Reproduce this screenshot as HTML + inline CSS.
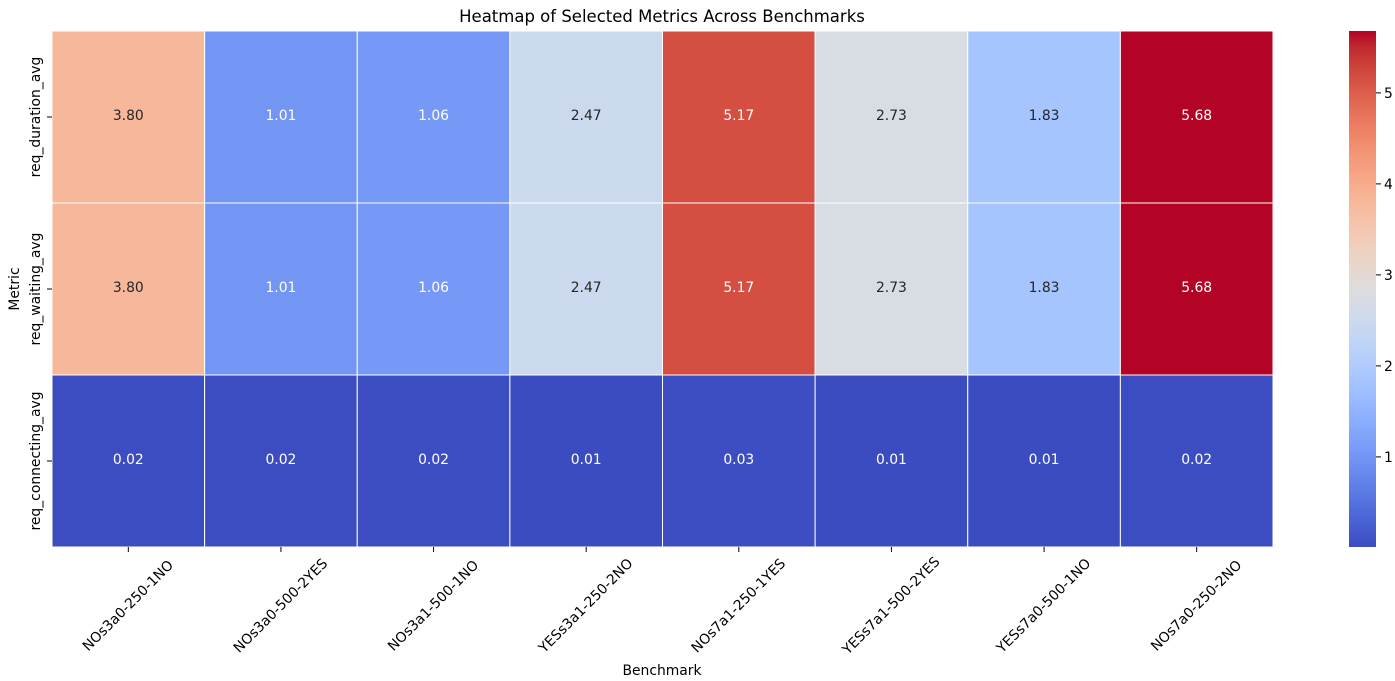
<!DOCTYPE html>
<html><head><meta charset="utf-8"><style>
html,body{margin:0;padding:0;background:#fff;}
svg{display:block;font-family:"DejaVu Sans","Liberation Sans",sans-serif;}
</style></head><body>
<svg id="chart" width="1395" height="681" viewBox="0 0 1395 681" xmlns="http://www.w3.org/2000/svg">
<text x="662" y="22" font-size="16.5" text-anchor="middle" fill="#000">Heatmap of Selected Metrics Across Benchmarks</text>
<text x="662" y="675" font-size="13.9" text-anchor="middle" fill="#000">Benchmark</text>
<text transform="translate(19,289) rotate(-90)" font-size="13.9" text-anchor="middle" fill="#000">Metric</text>
<defs><linearGradient id="cbg" x1="0" y1="1" x2="0" y2="0"></linearGradient></defs>
<g id="cells"></g><g id="xaxis"></g><g id="yaxis"></g><g id="cbar"></g>
</svg>
<script>
const categories = ["NOs3a0-250-1NO","NOs3a0-500-2YES","NOs3a1-500-1NO","YESs3a1-250-2NO","NOs7a1-250-1YES","YESs7a1-500-2YES","YESs7a0-500-1NO","NOs7a0-250-2NO"];
const metrics = ["req_duration_avg","req_waiting_avg","req_connecting_avg"];
const reqDuration = [3.80,1.01,1.06,2.47,5.17,2.73,1.83,5.68];
const reqWaiting = [3.80,1.01,1.06,2.47,5.17,2.73,1.83,5.68];
const reqConnecting = [0.02,0.02,0.02,0.01,0.03,0.01,0.01,0.02];
const cbTicks = [1,2,3,4,5];

const rows = [reqDuration, reqWaiting, reqConnecting];
const NS = "http://www.w3.org/2000/svg";
const L = 52, R = 1273, T = 31, B = 547;
const all = rows.flat();
const vmin = Math.min(...all), vmax = Math.max(...all);
const cw = (R - L) / categories.length, ch = (B - T) / metrics.length;
const xPos = i => L + i * cw;
const yPos = j => T + j * ch;
const cmapT = [[59,76,192],[68,90,204],[77,104,215],[87,117,225],[98,130,234],[108,142,241],[119,154,247],[130,165,251],[141,176,254],[152,185,255],[163,194,255],[174,201,253],[184,208,249],[194,213,244],[204,217,238],[213,219,230],[221,221,221],[229,216,209],[236,211,197],[241,204,184],[245,196,172],[247,187,159],[247,177,147],[247,166,134],[244,154,123],[241,141,111],[236,127,99],[229,112,89],[222,96,77],[213,80,67],[203,62,56],[192,40,47],[180,4,38]];
function cmap(t){t=Math.max(0,Math.min(1,t));const p=t*(cmapT.length-1);const i=Math.min(Math.floor(p),cmapT.length-2);const f=p-i;const a=cmapT[i],b=cmapT[i+1];return [0,1,2].map(k=>Math.round(a[k]+(b[k]-a[k])*f));}
const norm = v => (v - vmin) / (vmax - vmin);
function mk(tag, attrs, parent){const e=document.createElementNS(NS,tag);for(const k in attrs)e.setAttribute(k,attrs[k]);parent.appendChild(e);return e;}
const cells = document.getElementById('cells');
rows.forEach((row, j) => {
  row.forEach((v, i) => {
    const c = cmap(norm(v));
    const r = mk('rect', {x: xPos(i), y: yPos(j), width: cw, height: ch, fill: `rgb(${c})`, stroke: '#fff', 'stroke-width': 1}, cells);
    
    
    const lum = 0.2126*Math.pow(c[0]/255,2.2)+0.7152*Math.pow(c[1]/255,2.2)+0.0722*Math.pow(c[2]/255,2.2);
    const t = mk('text', {x: xPos(i) + cw/2, y: yPos(j) + ch/2 + 3, 'font-size': 13.9, 'text-anchor': 'middle', fill: lum > 0.408 ? '#262626' : '#fff'}, cells);
    t.textContent = v.toFixed(2);
    
    
  });
});
const xa = document.getElementById('xaxis');
categories.forEach((c, i) => {
  const x = xPos(i) + cw/2;
  mk('line', {x1: x, y1: B, x2: x, y2: B + 5, stroke: '#000', 'stroke-width': 1}, xa);
  const t = mk('text', {transform: `translate(${x},606) rotate(-45)`, 'font-size': 13.9, 'text-anchor': 'middle', 'dominant-baseline': 'middle', fill: '#000'}, xa);
  t.textContent = c;
  
  
});
const ya = document.getElementById('yaxis');
metrics.forEach((m, j) => {
  const y = yPos(j) + ch/2;
  mk('line', {x1: L - 5, y1: y, x2: L, y2: y, stroke: '#000', 'stroke-width': 1}, ya);
  const t = mk('text', {transform: `translate(40,${y}) rotate(-90)`, 'font-size': 13.9, 'text-anchor': 'middle', fill: '#000'}, ya);
  t.textContent = m;
  
  
});
const g = document.getElementById('cbg');
for (let k = 0; k <= 32; k++) { const c = cmap(k/32); mk('stop', {offset: (k/32*100)+'%', 'stop-color': `rgb(${c})`}, g); }
const cb = document.getElementById('cbar');
const CX = 1349, CW = 27;
const cbRect = mk('rect', {x: CX, y: T, width: CW, height: B - T, fill: 'url(#cbg)'}, cb);


const cbY = v => B - norm(v) * (B - T);
cbTicks.forEach(v => {
  const y = cbY(v);
  mk('line', {x1: CX + CW, y1: y, x2: CX + CW + 5, y2: y, stroke: '#000', 'stroke-width': 1}, cb);
  const t = mk('text', {x: CX + CW + 8, y: y + 5, 'font-size': 13.9, fill: '#000'}, cb);
  t.textContent = v;
  
  
});
</script>
</body></html>
